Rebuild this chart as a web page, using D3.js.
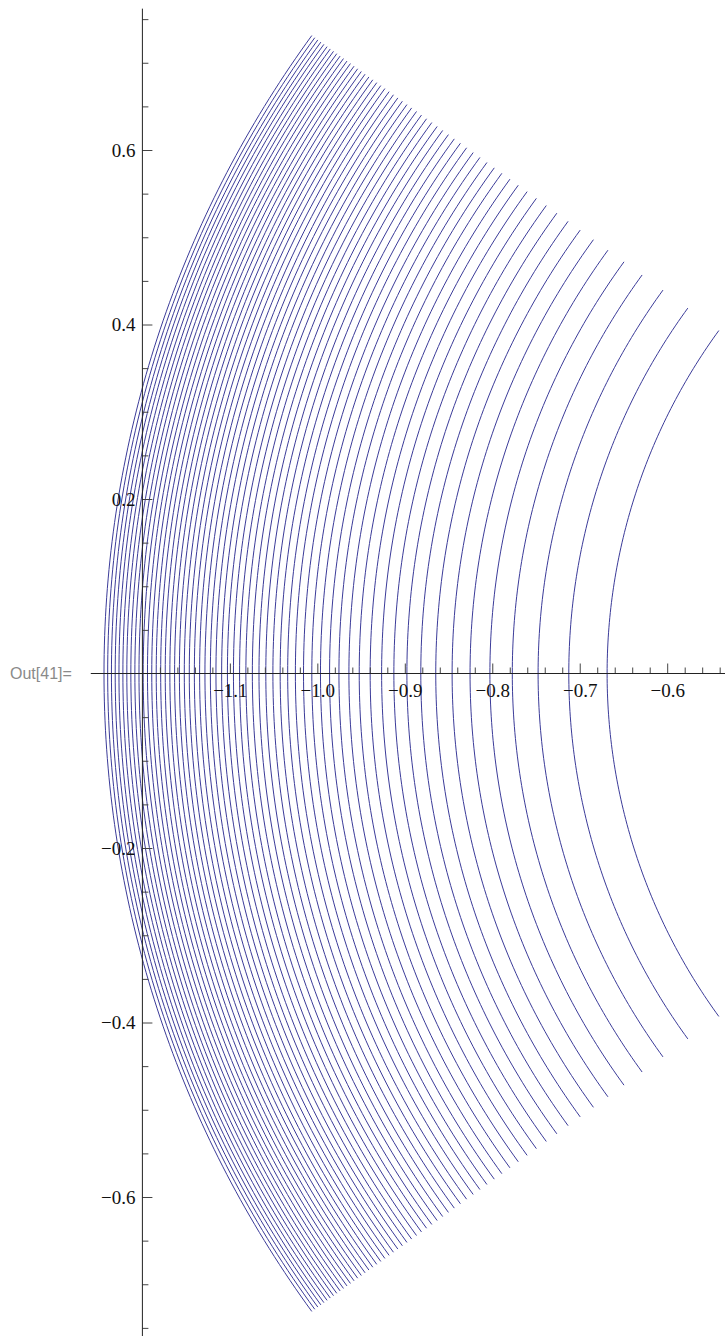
<!DOCTYPE html>
<html>
<head>
<meta charset="utf-8">
<script src="https://cdn.jsdelivr.net/npm/d3@7"></script>
<style>
    body { margin:0; background:#fff; }
</style>
</head>
<body>
<svg id="arcs"></svg>
<script>
//////////////////////////////////////////////////////////////
//radius of every arc (read off where each one crosses the x axis)
var radii = [0.6687,0.7125,0.7476,0.7771,0.8027,0.8254,0.8459,0.8646,0.8817,0.8976,
             0.9125,0.9265,0.9396,0.9521,0.9639,0.9753,0.9860,0.9964,1.0063,1.0158,
             1.0251,1.0339,1.0425,1.0508,1.0589,1.0667,1.0743,1.0817,1.0889,1.0959,
             1.1028,1.1094,1.1159,1.1223,1.1285,1.1346,1.1406,1.1464,1.1521,1.1577,
             1.1632,1.1686,1.1739,1.1791,1.1842,1.1893,1.1942,1.1991,1.2039,1.2086,
             1.2132,1.2178,1.2223,1.2268,1.2311,1.2354,1.2397,1.2439];

//angle the arcs run over, degrees
var thetaRange = [144,216];

//ticks
var xMajor = [-1.1,-1.0,-0.9,-0.8,-0.7,-0.6];
var yMajor = [-0.6,-0.4,-0.2,0.2,0.4,0.6];
var xMinor = [-1.18,-1.16,-1.14,-1.12,-1.08,-1.06,-1.04,-1.02,-0.98,-0.96,-0.94,-0.92,
              -0.88,-0.86,-0.84,-0.82,-0.78,-0.76,-0.74,-0.72,-0.68,-0.66,-0.64,-0.62,
              -0.58,-0.56,-0.54];
var yMinor = [-0.75,-0.7,-0.65,-0.55,-0.5,-0.45,-0.35,-0.3,-0.25,-0.15,-0.1,-0.05,
              0.05,0.1,0.15,0.25,0.3,0.35,0.45,0.5,0.55,0.65,0.7,0.75];

//where the axis lines stop
var xAxisExtent = [-1.259,-0.52];
var yAxisExtent = [-0.78,0.762];
//////////////////////////////////////////////////////////////

var drawArcs = function(target,xScale,yScale)
{
    var toRad = Math.PI/180;
    var angles = d3.range(thetaRange[0],thetaRange[1]+0.001,0.5);

    d3.select(target)
        .append("g")
        .classed("arcs",true)
        .selectAll("path")
        .data(radii)
        .enter()
        .append("path")
        .attr("fill","none")
        .attr("stroke","#3b3b99")
        .attr("stroke-width",1)
        .attr("d",function(r)
        {
            var line = d3.line()
                .x(function(a){ return xScale(r*Math.cos(a*toRad)); })
                .y(function(a){ return yScale(r*Math.sin(a*toRad)); });
            return line(angles);
        })
}


var createAxes = function(target,xScale,yScale)
{
    var fmt = d3.format(".1f");
    var axes = d3.select(target).append("g");

    //x axis, ticks pointing up, labels underneath
    var xg = axes.append("g")
        .attr("transform","translate(0,"+yScale(0)+")");
    xg.append("g")
        .call(d3.axisBottom(xScale).tickValues(xMinor)
              .tickSizeInner(-6).tickSizeOuter(0).tickFormat(""))
    xg.append("g")
        .call(d3.axisBottom(xScale).tickValues(xMajor)
              .tickSizeInner(-10).tickSizeOuter(0).tickPadding(10).tickFormat(fmt))
    xg.selectAll(".domain").remove();
    xg.append("line")
        .attr("x1",xScale(xAxisExtent[0]))
        .attr("x2",xScale(xAxisExtent[1]))
        .attr("stroke","#222")

    //y axis, ticks pointing right, labels left
    var yg = axes.append("g")
        .attr("transform","translate("+xScale(-1.2)+",0)");
    yg.append("g")
        .call(d3.axisLeft(yScale).tickValues(yMinor)
              .tickSizeInner(-6).tickSizeOuter(0).tickFormat(""))
    yg.append("g")
        .call(d3.axisLeft(yScale).tickValues(yMajor)
              .tickSizeInner(-10).tickSizeOuter(0).tickPadding(7).tickFormat(fmt))
    yg.selectAll(".domain").remove();
    yg.append("line")
        .attr("y1",yScale(yAxisExtent[1]))
        .attr("y2",yScale(yAxisExtent[0]))
        .attr("stroke","#222")

    axes.selectAll(".tick text")
        .attr("fill","#111")
        .style("font-family","'Liberation Serif','Times New Roman',serif")
        .style("font-size","19px");
    axes.selectAll(".tick line").attr("stroke","#444");
}


var initGraph = function(target)
{
    var screen = {width:725, height:1336};

    d3.select(target)
        .attr("width",screen.width)
        .attr("height",screen.height)

    //same units on both axes
    var xScale = d3.scaleLinear()
        .domain([-1.2,-0.6])
        .range([142.4,667.2])

    var yScale = d3.scaleLinear()
        .domain([0,0.6])
        .range([673.5,150])

    drawArcs(target,xScale,yScale);
    createAxes(target,xScale,yScale);

    d3.select(target)
        .append("text")
        .text("Out[41]=")
        .attr("x",10)
        .attr("y",yScale(0))
        .attr("dy","0.35em")
        .attr("fill","#8a8a8a")
        .style("font-family","'Liberation Sans',Arial,sans-serif")
        .style("font-size","16px")
}

initGraph("#arcs");
</script>
</body>
</html>
